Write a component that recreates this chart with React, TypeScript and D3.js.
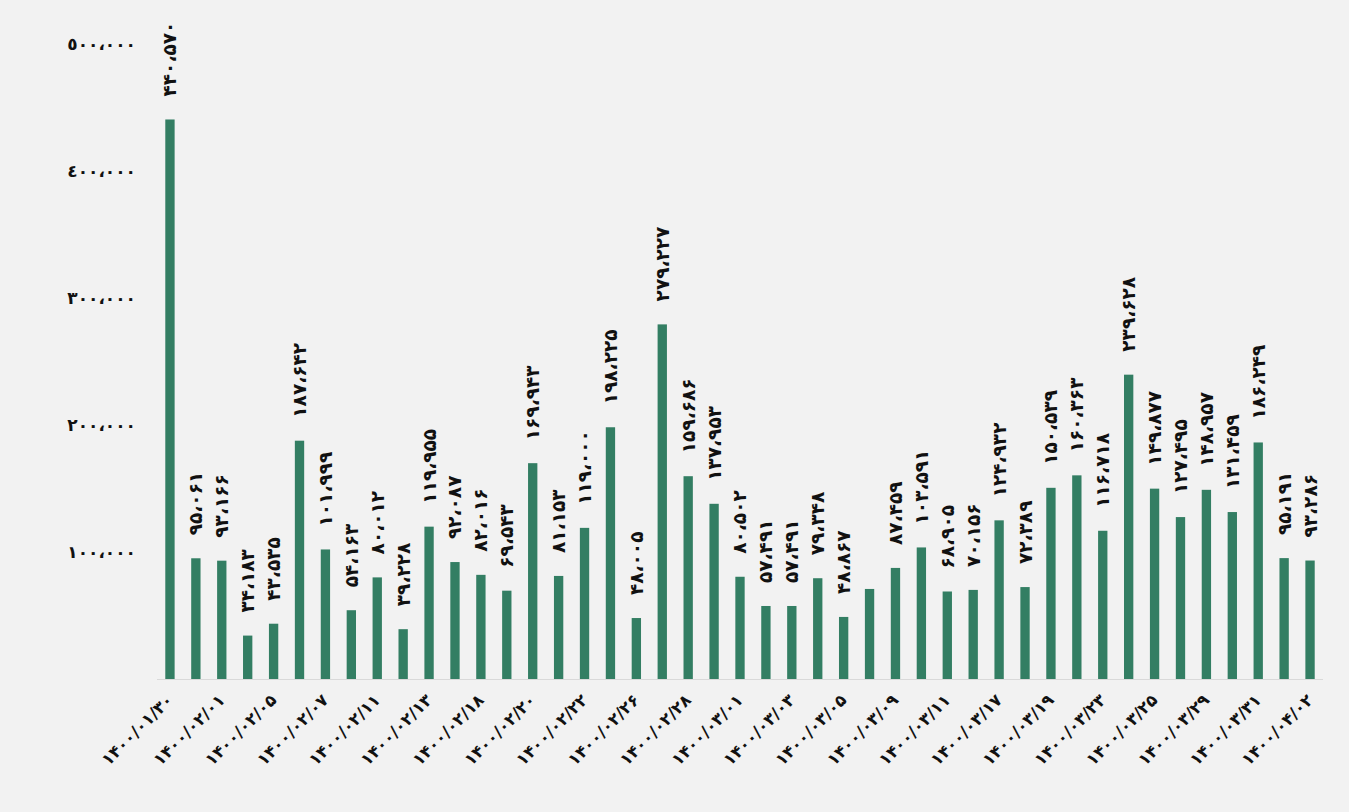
import * as d3 from "d3";

// dates shown on the x axis (every second bar carries one)
const dates = [
  "۱۴۰۰/۰۱/۳۰", "", "۱۴۰۰/۰۲/۰۱", "", "۱۴۰۰/۰۲/۰۵", "", "۱۴۰۰/۰۲/۰۷", "",
  "۱۴۰۰/۰۲/۱۱", "", "۱۴۰۰/۰۲/۱۳", "", "۱۴۰۰/۰۲/۱۸", "", "۱۴۰۰/۰۲/۲۰", "",
  "۱۴۰۰/۰۲/۲۲", "", "۱۴۰۰/۰۲/۲۶", "", "۱۴۰۰/۰۲/۲۸", "", "۱۴۰۰/۰۳/۰۱", "",
  "۱۴۰۰/۰۳/۰۳", "", "۱۴۰۰/۰۳/۰۵", "", "۱۴۰۰/۰۳/۰۹", "", "۱۴۰۰/۰۳/۱۱", "",
  "۱۴۰۰/۰۳/۱۷", "", "۱۴۰۰/۰۳/۱۹", "", "۱۴۰۰/۰۳/۲۳", "", "۱۴۰۰/۰۳/۲۵", "",
  "۱۴۰۰/۰۳/۲۹", "", "۱۴۰۰/۰۳/۳۱", "", "۱۴۰۰/۰۴/۰۲",
];

const values = [
  440570, 95061, 93166, 34183, 43535, 187642, 101999, 54163, 80012, 39228,
  119955, 92087, 82016, 69543, 169943, 81153, 119000, 198225, 48005, 279227,
  159686, 137953, 80502, 57491, 57491, 79348, 48867, 70900, 87459, 103591,
  68905, 70156, 124932, 72389, 150539, 160363, 116718, 239628, 149877, 127495,
  148957, 131459, 186249, 95191, 93286,
];

// bars whose value label is not shown in the original
const hiddenLabels = [27];

const yTicks = [100000, 200000, 300000, 400000, 500000];

const W = 1349;
const H = 812;
const left = 157;
const right = 1323;
const top = 44;
const bottom = 679;

const fa = (s: string) => s.replace(/\d/g, (c) => "۰۱۲۳۴۵۶۷۸۹"[+c]);
const ar = (s: string) => s.replace(/\d/g, (c) => "٠١٢٣٤٥٦٧٨٩"[+c]);
const group = (n: number) => d3.format(",")(n).replace(/,/g, "،");

export default function App() {
  const idx = values.map((_, i) => i);
  const x = d3.scaleBand<number>().domain(idx).range([left, right]).paddingInner(0.64).paddingOuter(0.32);
  const y = d3.scaleLinear().domain([0, 500000]).range([bottom, top]);
  const font = "'DejaVu Sans', sans-serif";

  return (
    <svg
      width={W}
      height={H}
      style={{ position: "absolute", left: 0, top: 0, background: "#f2f2f2" }}
    >
      <rect width={W} height={H} fill="#f2f2f2" />
      {yTicks.map((t) => (
        <text
          key={t}
          x={136}
          y={y(t)}
          dy="0.35em"
          textAnchor="end"
          fontFamily={font}
          fontWeight="bold"
          fontSize={17}
          fill="#111"
        >
          {ar(group(t))}
        </text>
      ))}
      <line x1={left} x2={right} y1={bottom + 0.5} y2={bottom + 0.5} stroke="#d9d9d9" />
      {values.map((v, i) => (
        <rect
          key={i}
          x={x(i)}
          y={y(v)}
          width={x.bandwidth()}
          height={bottom - y(v)}
          fill="#337e63"
        />
      ))}
      {values.map((v, i) =>
        hiddenLabels.includes(i) ? null : (
          <text
            key={i}
            transform={`translate(${x(i)! + x.bandwidth() / 2},${y(v) - 23}) rotate(-90)`}
            dy="0.35em"
            textAnchor="start"
            fontFamily={font}
            fontWeight="bold"
            fontSize={18.5}
            fill="#111"
          >
            {fa(group(v))}
          </text>
        )
      )}
      {dates.map((d, i) =>
        d ? (
          <text
            key={i}
            transform={`translate(${x(i)! + x.bandwidth() / 2 + 4},${bottom + 22}) rotate(-45)`}
            textAnchor="end"
            fontFamily={font}
            fontWeight="bold"
            fontSize={16.5}
            fill="#111"
          >
            {d}
          </text>
        ) : null
      )}
    </svg>
  );
}
